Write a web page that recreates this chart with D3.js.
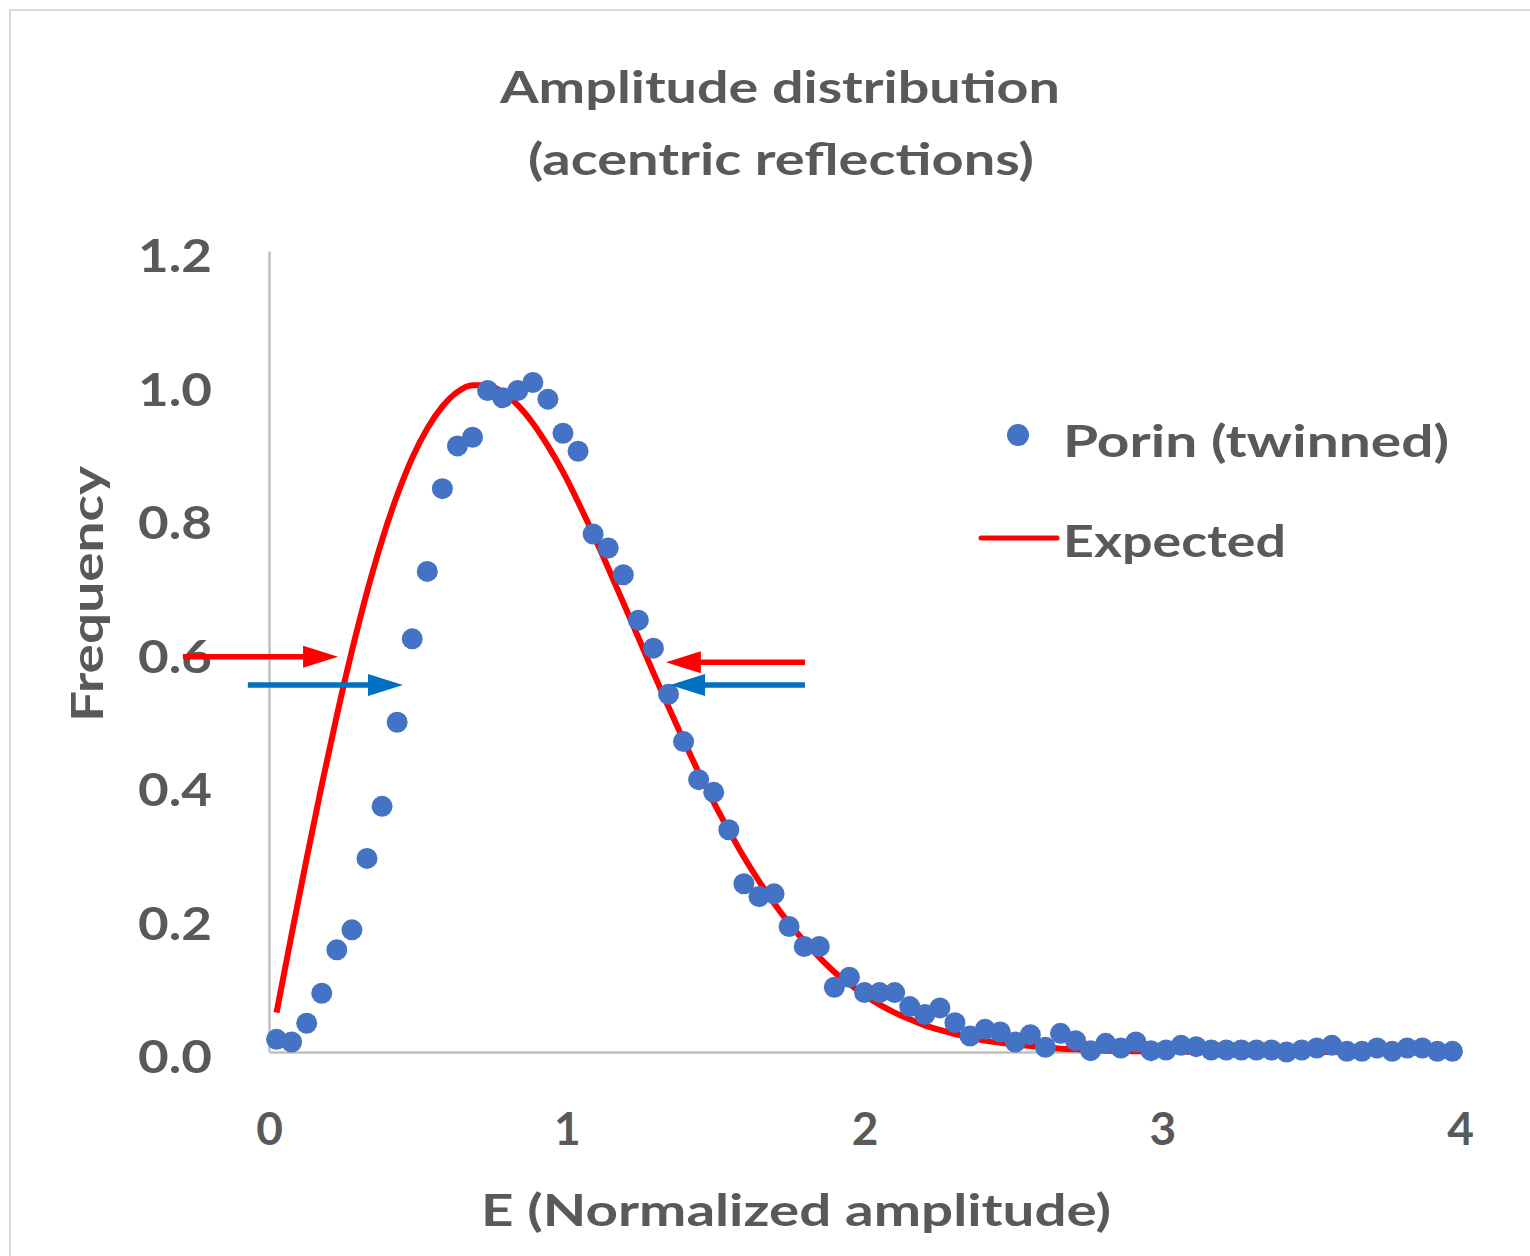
<!DOCTYPE html>
<html>
<head>
<meta charset="utf-8">
<script src="https://cdn.jsdelivr.net/npm/d3@7"></script>
<style>
  body { margin: 0; background: #fff; }
  svg text { font-family: Lato, "Open Sans", sans-serif; font-weight: 700; fill: #595959; }
</style>
</head>
<body>
<svg id="chart" width="1530" height="1256"></svg>
<script>
// normalized amplitude E (bin centres)
var eValues = [0.0253, 0.0759, 0.1266, 0.1772, 0.2278, 0.2785, 0.3291, 0.3797, 0.4304, 0.4810,
  0.5316, 0.5823, 0.6329, 0.6835, 0.7342, 0.7848, 0.8354, 0.8861, 0.9367, 0.9873,
  1.0380, 1.0886, 1.1392, 1.1899, 1.2405, 1.2911, 1.3418, 1.3924, 1.4430, 1.4937,
  1.5443, 1.5949, 1.6456, 1.6962, 1.7468, 1.7975, 1.8481, 1.8987, 1.9494, 2.0000,
  2.0506, 2.1013, 2.1519, 2.2025, 2.2532, 2.3038, 2.3544, 2.4051, 2.4557, 2.5063,
  2.5570, 2.6076, 2.6582, 2.7089, 2.7595, 2.8101, 2.8608, 2.9114, 2.9620, 3.0127,
  3.0633, 3.1139, 3.1646, 3.2152, 3.2658, 3.3165, 3.3671, 3.4177, 3.4684, 3.5190,
  3.5696, 3.6203, 3.6709, 3.7215, 3.7722, 3.8228, 3.8734, 3.9241, 3.9747];

// observed frequency, Porin (twinned)
var porin = [0.019, 0.015, 0.043, 0.088, 0.153, 0.183, 0.290, 0.368, 0.494, 0.619,
  0.720, 0.844, 0.908, 0.921, 0.991, 0.980, 0.991, 1.003, 0.978, 0.927,
  0.900, 0.776, 0.755, 0.715, 0.647, 0.605, 0.536, 0.465, 0.408, 0.389,
  0.333, 0.252, 0.233, 0.237, 0.188, 0.158, 0.158, 0.097, 0.112, 0.089,
  0.089, 0.089, 0.068, 0.056, 0.066, 0.044, 0.024, 0.034, 0.030, 0.015,
  0.026, 0.007, 0.028, 0.017, 0.002, 0.013, 0.006, 0.015, 0.002, 0.003,
  0.010, 0.008, 0.003, 0.003, 0.003, 0.003, 0.003, 0.000, 0.003, 0.006,
  0.010, 0.001, 0.001, 0.006, 0.001, 0.006, 0.006, 0.001, 0.001];

// expected curve (acentric), sampled at the same E plus the end point E = 4
var expectedE = eValues.concat([4.0]);
var expected = [0.059, 0.176, 0.290, 0.400, 0.504, 0.601, 0.689, 0.767, 0.834, 0.890,
  0.934, 0.967, 0.989, 0.999, 0.999, 0.988, 0.969, 0.942, 0.908, 0.869,
  0.824, 0.776, 0.725, 0.673, 0.621, 0.568, 0.517, 0.467, 0.419, 0.374,
  0.332, 0.292, 0.256, 0.223, 0.193, 0.166, 0.142, 0.120, 0.102, 0.085,
  0.071, 0.059, 0.049, 0.040, 0.033, 0.027, 0.022, 0.017, 0.014, 0.011,
  0.009, 0.007, 0.005, 0.004, 0.003, 0.002, 0.002, 0.001, 0.001, 0.001,
  0.001, 0.000, 0.000, 0.000, 0.000, 0.000, 0.000, 0.000, 0.000, 0.000,
  0.000, 0.000, 0.000, 0.000, 0.000, 0.000, 0.000, 0.000, 0.000, 0.000];

var xTicks = [0, 1, 2, 3, 4];
var yTicks = [0, 0.2, 0.4, 0.6, 0.8, 1.0, 1.2];

// annotation arrows (data units): from x1 to tip x2 at height y
var arrowX1 = [-0.289, -0.071, 1.800, 1.800];
var arrowX2 = [0.232, 0.450, 1.333, 1.347];
var arrowY = [0.592, 0.550, 0.584, 0.550];
var arrowColor = ["#ff0000", "#0070c0", "#ff0000", "#0070c0"];

var svg = d3.select("#chart");

var xScale = d3.scaleLinear().domain([0, 4]).range([269, 1460]);
var yScale = d3.scaleLinear().domain([0, 1.2]).range([1052, 251]);

// outer chart border
svg.append("rect")
  .attr("x", 10).attr("y", 10)
  .attr("width", 1600).attr("height", 1400)
  .attr("fill", "none")
  .attr("stroke", "#d9d9d9")
  .attr("stroke-width", 2);

// title
svg.append("text").attr("x", 780).attr("y", 103)
  .attr("text-anchor", "middle").style("font-size", "43px")
  .attr("textLength", 560).attr("lengthAdjust", "spacingAndGlyphs")
  .text("Amplitude distribution");
svg.append("text").attr("x", 781).attr("y", 175)
  .attr("text-anchor", "middle").style("font-size", "43px")
  .attr("textLength", 506).attr("lengthAdjust", "spacingAndGlyphs")
  .text("(acentric reflections)");

// axes
var yAxis = d3.axisLeft(yScale).tickValues(yTicks).tickSize(0).tickPadding(57)
  .tickFormat(d3.format(".1f"));
var yAxisG = svg.append("g").attr("id", "yAxisG")
  .attr("transform", "translate(" + xScale(0) + ",0)").call(yAxis);

var xAxis = d3.axisBottom(xScale).tickValues(xTicks).tickSize(0)
  .tickFormat(d3.format("d"));
var xAxisG = svg.append("g").attr("id", "xAxisG")
  .attr("transform", "translate(0," + yScale(0) + ")").call(xAxis);

svg.selectAll("path.domain").style("stroke", "#bfbfbf").style("stroke-width", 2.5);
yAxisG.selectAll("text")
  .attr("dy", "0.45em")
  .attr("textLength", 74).attr("lengthAdjust", "spacingAndGlyphs")
  .style("font-size", "46px").style("fill", "#595959").style("font-family", null);
xAxisG.selectAll("text")
  .attr("y", 93).attr("dy", null)
  .style("font-size", "46px").style("fill", "#595959").style("font-family", null);

// axis titles
svg.append("text").attr("x", 796).attr("y", 1226)
  .attr("text-anchor", "middle").style("font-size", "43px")
  .attr("textLength", 630).attr("lengthAdjust", "spacingAndGlyphs")
  .text("E (Normalized amplitude)");
svg.append("text")
  .attr("transform", "translate(103,594) rotate(-90)")
  .attr("text-anchor", "middle").style("font-size", "43px")
  .attr("textLength", 256).attr("lengthAdjust", "spacingAndGlyphs")
  .text("Frequency");

// expected curve
var line = d3.line()
  .x(function(d, i) { return xScale(expectedE[i]); })
  .y(function(d) { return yScale(d); })
  .curve(d3.curveMonotoneX);

svg.append("path")
  .datum(expected)
  .attr("d", line)
  .attr("fill", "none")
  .attr("stroke", "#ff0000")
  .attr("stroke-width", 6);

// observed points
svg.append("g").selectAll("circle")
  .data(porin).enter()
  .append("circle")
  .attr("r", 10.5)
  .attr("cx", function(d, i) { return xScale(eValues[i]); })
  .attr("cy", function(d) { return yScale(d); })
  .attr("fill", "#4472c4");

// arrows
var headLen = 35, headHalf = 11;
arrowX1.forEach(function(x1, i) {
  var sx = xScale(x1), tx = xScale(arrowX2[i]), y = yScale(arrowY[i]);
  var dir = tx > sx ? 1 : -1;
  var bx = tx - dir * headLen;
  svg.append("line")
    .attr("x1", sx).attr("x2", bx + dir * 2)
    .attr("y1", y).attr("y2", y)
    .attr("stroke", arrowColor[i]).attr("stroke-width", 5.5);
  svg.append("path")
    .attr("d", "M" + tx + "," + y + "L" + bx + "," + (y - headHalf) + "L" + bx + "," + (y + headHalf) + "Z")
    .attr("fill", arrowColor[i]);
});

// legend
var legend = svg.append("g");
legend.append("circle").attr("cx", 1018).attr("cy", 435).attr("r", 11).attr("fill", "#4472c4");
legend.append("text").attr("x", 1063).attr("y", 457)
  .style("font-size", "44px")
  .attr("textLength", 386).attr("lengthAdjust", "spacingAndGlyphs")
  .text("Porin (twinned)");
legend.append("line").attr("x1", 981).attr("x2", 1057).attr("y1", 538).attr("y2", 538)
  .attr("stroke", "#ff0000").attr("stroke-width", 5).attr("stroke-linecap", "round");
legend.append("text").attr("x", 1063).attr("y", 557)
  .style("font-size", "44px")
  .attr("textLength", 223).attr("lengthAdjust", "spacingAndGlyphs")
  .text("Expected");
</script>
</body>
</html>
